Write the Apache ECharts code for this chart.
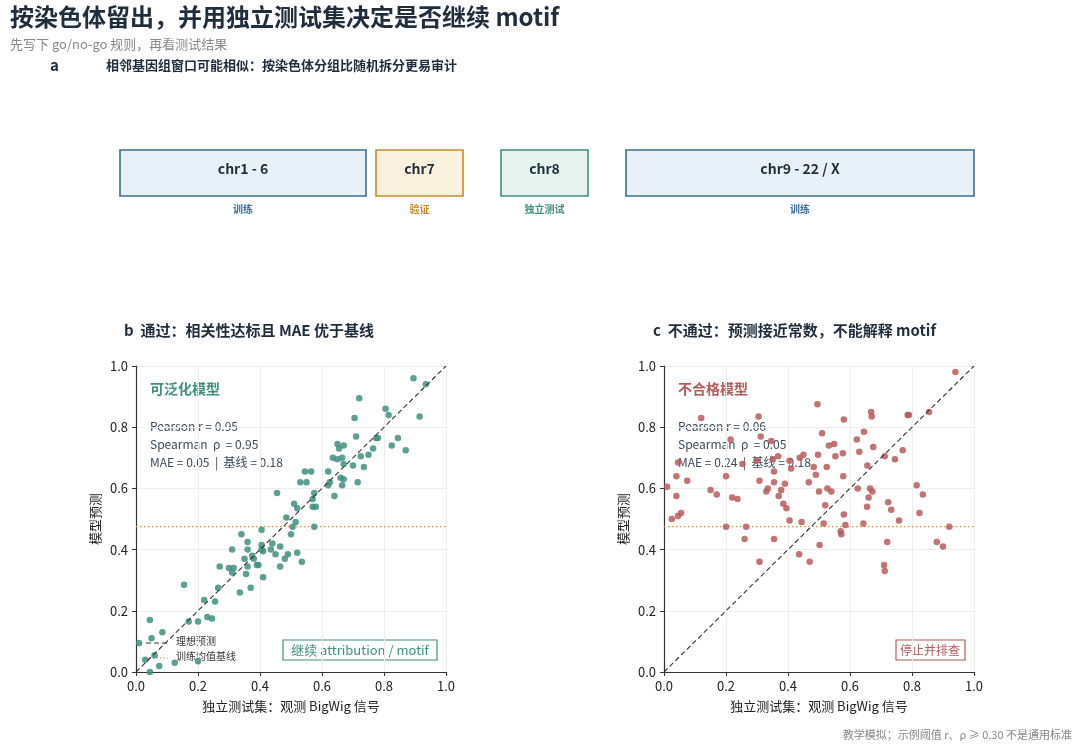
<!DOCTYPE html>
<html><head><meta charset="utf-8">
<script src="https://cdn.jsdelivr.net/npm/echarts@6/dist/echarts.min.js"></script>
<style>html,body{margin:0;padding:0;background:#fff}#main{width:1080px;height:751px}</style>
</head><body><div id="main"></div>
<script>
// chromosome split boxes (label, role, colour key)
const splitLabels = ['chr1 - 6', 'chr7', 'chr8', 'chr9 - 22 / X'];
const splitRoles = ['训练', '验证', '独立测试', '训练'];
const splitKinds = ['train', 'val', 'test', 'train'];

// panel b: generalising model [observed, predicted]
const goodPoints = [
  [0.01,0.095],[0.03,0.04],[0.045,0.0],[0.045,0.17],[0.05,0.11],[0.06,0.055],[0.075,0.02],[0.085,0.13],
  [0.125,0.03],[0.155,0.285],[0.17,0.165],[0.2,0.165],[0.2,0.035],[0.22,0.235],[0.23,0.18],[0.245,0.175],
  [0.255,0.23],[0.265,0.275],[0.27,0.345],[0.3,0.34],[0.31,0.4],[0.31,0.325],[0.315,0.34],[0.335,0.26],
  [0.34,0.45],[0.35,0.37],[0.355,0.32],[0.36,0.425],[0.36,0.4],[0.36,0.345],[0.37,0.275],[0.375,0.38],
  [0.38,0.37],[0.39,0.35],[0.395,0.35],[0.405,0.465],[0.405,0.415],[0.405,0.4],[0.41,0.31],[0.41,0.395],
  [0.435,0.4],[0.44,0.42],[0.45,0.385],[0.455,0.585],[0.465,0.345],[0.465,0.41],[0.48,0.37],[0.485,0.505],
  [0.49,0.385],[0.5,0.45],[0.505,0.475],[0.51,0.55],[0.515,0.49],[0.52,0.535],[0.52,0.39],[0.53,0.62],
  [0.535,0.36],[0.545,0.655],[0.55,0.62],[0.565,0.655],[0.57,0.54],[0.57,0.565],[0.575,0.475],[0.575,0.585],
  [0.58,0.54],[0.62,0.61],[0.62,0.655],[0.625,0.62],[0.635,0.7],[0.64,0.575],[0.65,0.745],[0.65,0.695],
  [0.655,0.73],[0.66,0.635],[0.665,0.61],[0.665,0.7],[0.67,0.68],[0.67,0.63],[0.67,0.74],[0.7,0.675],
  [0.705,0.83],[0.71,0.77],[0.715,0.62],[0.72,0.895],[0.725,0.705],[0.735,0.67],[0.75,0.71],[0.765,0.73],
  [0.775,0.765],[0.78,0.765],[0.805,0.86],[0.815,0.84],[0.825,0.74],[0.845,0.765],[0.87,0.725],[0.895,0.96],
  [0.915,0.835],[0.935,0.94]
];

// panel c: failing model [observed, predicted]
const badPoints = [
  [0.01,0.605],[0.025,0.5],[0.04,0.64],[0.04,0.575],[0.045,0.51],[0.055,0.52],[0.045,0.685],[0.075,0.625],
  [0.12,0.83],[0.15,0.595],[0.17,0.58],[0.2,0.64],[0.2,0.475],[0.215,0.76],[0.22,0.57],[0.237,0.565],
  [0.253,0.68],[0.26,0.435],[0.265,0.475],[0.298,0.69],[0.305,0.835],[0.308,0.625],[0.308,0.36],[0.312,0.77],
  [0.33,0.59],[0.335,0.6],[0.346,0.755],[0.351,0.695],[0.355,0.655],[0.355,0.62],[0.355,0.435],[0.368,0.705],
  [0.37,0.575],[0.378,0.595],[0.385,0.55],[0.39,0.615],[0.395,0.535],[0.405,0.69],[0.405,0.495],[0.41,0.665],
  [0.436,0.385],[0.438,0.7],[0.444,0.49],[0.45,0.71],[0.467,0.62],[0.47,0.36],[0.483,0.67],[0.49,0.645],
  [0.495,0.875],[0.497,0.71],[0.5,0.59],[0.502,0.415],[0.51,0.78],[0.515,0.485],[0.52,0.545],[0.525,0.67],
  [0.527,0.6],[0.532,0.74],[0.54,0.59],[0.549,0.745],[0.553,0.705],[0.57,0.46],[0.572,0.45],[0.577,0.715],
  [0.578,0.64],[0.58,0.825],[0.58,0.515],[0.585,0.48],[0.622,0.76],[0.625,0.6],[0.63,0.72],[0.643,0.485],
  [0.645,0.785],[0.655,0.54],[0.656,0.675],[0.66,0.57],[0.665,0.6],[0.668,0.85],[0.67,0.835],[0.672,0.59],
  [0.675,0.735],[0.712,0.705],[0.71,0.35],[0.712,0.33],[0.723,0.555],[0.72,0.425],[0.733,0.53],[0.745,0.695],
  [0.758,0.495],[0.77,0.725],[0.786,0.84],[0.79,0.84],[0.815,0.61],[0.824,0.52],[0.835,0.58],[0.855,0.85],
  [0.88,0.425],[0.9,0.41],[0.92,0.475],[0.94,0.98]
];

const baseline = 0.475;
const goodStats = ['Pearson r = 0.95', 'Spearman  ρ  = 0.95', 'MAE = 0.05  |  基线 = 0.18'];
const badStats = ['Pearson r = 0.06', 'Spearman  ρ  = 0.05', 'MAE = 0.24  |  基线 = 0.18'];

const FONT = '"Noto Sans CJK SC", "Noto Sans", sans-serif';
const TEAL = '#3f8f80', RED = '#b85a5a', ORANGE = '#d4923a', INK = '#1f2d3d';
const kindStyle = {
  train: { stroke: '#3b6f98', fill: '#e9f1f8', text: '#3b6f98' },
  val:   { stroke: '#c98a2a', fill: '#fbf1df', text: '#c98a2a' },
  test:  { stroke: '#3f8f80', fill: '#e7f3ef', text: '#3f8f80' }
};
// box geometry (layout only)
const boxX = [120, 376, 501, 626], boxW = [246, 114, 114, 348];
boxW[1] = 87; boxW[2] = 87;

var chart = echarts.init(document.getElementById('main'), null, { renderer: 'canvas' });

const graphic = [
  { type: 'text', left: 10, top: 5, style: { text: '按染色体留出，并用独立测试集决定是否继续 motif', font: 'bold 24px ' + FONT, fill: INK } },
  { type: 'text', left: 10, top: 38, style: { text: '先写下 go/no-go 规则，再看测试结果', font: '13px ' + FONT, fill: '#888' } },
  { type: 'text', left: 50, top: 58, style: { text: 'a', font: 'bold 15px ' + FONT, fill: INK } },
  { type: 'text', left: 106, top: 59, style: { text: '相邻基因组窗口可能相似：按染色体分组比随机拆分更易审计', font: 'bold 13px ' + FONT, fill: INK } },
  { type: 'text', left: 124, top: 323, style: { text: 'b  通过：相关性达标且 MAE 优于基线', font: 'bold 15px ' + FONT, fill: INK } },
  { type: 'text', left: 653, top: 323, style: { text: 'c  不通过：预测接近常数，不能解释 motif', font: 'bold 15px ' + FONT, fill: INK } },
  { type: 'text', left: 150, top: 382, style: { text: '可泛化模型', font: 'bold 14px ' + FONT, fill: TEAL } },
  { type: 'text', left: 678, top: 382, style: { text: '不合格模型', font: 'bold 14px ' + FONT, fill: RED } },
  { type: 'text', right: 8, top: 729, style: { text: '教学模拟；示例阈值 r、ρ ≥ 0.30 不是通用标准', font: '11px ' + FONT, fill: '#888' } },
  // decision tags
  { type: 'rect', shape: { x: 283, y: 640, width: 154, height: 20 }, style: { fill: '#fff', stroke: TEAL, lineWidth: 1.2 } },
  { type: 'text', x: 360, y: 650, style: { text: '继续 attribution / motif', font: '13px ' + FONT, fill: TEAL, align: 'center', verticalAlign: 'middle' } },
  { type: 'rect', shape: { x: 896, y: 640, width: 69, height: 20 }, style: { fill: '#fff', stroke: RED, lineWidth: 1.2 } },
  { type: 'text', x: 930, y: 650, style: { text: '停止并排查', font: '12px ' + FONT, fill: RED, align: 'center', verticalAlign: 'middle' } },
  // legend
  { type: 'line', shape: { x1: 146, y1: 643, x2: 168, y2: 643 }, style: { stroke: '#333', lineDash: [5, 3], lineWidth: 1 } },
  { type: 'text', left: 176, top: 636, style: { text: '理想预测', font: '10px ' + FONT, fill: '#333' } },
  { type: 'line', shape: { x1: 146, y1: 658, x2: 168, y2: 658 }, style: { stroke: ORANGE, lineDash: [1.5, 2], lineWidth: 1.2 } },
  { type: 'text', left: 176, top: 651, style: { text: '训练均值基线', font: '10px ' + FONT, fill: '#333' } }
];
goodStats.forEach((s, i) => graphic.push({ type: 'text', left: 150, top: 420 + i * 18, style: { text: s, font: '12px ' + FONT, fill: '#3a4a5a' } }));
badStats.forEach((s, i) => graphic.push({ type: 'text', left: 678, top: 420 + i * 18, style: { text: s, font: '12px ' + FONT, fill: '#3a4a5a' } }));
splitLabels.forEach((lab, i) => {
  const st = kindStyle[splitKinds[i]];
  graphic.push({ type: 'rect', shape: { x: boxX[i], y: 150, width: boxW[i], height: 46 }, style: { fill: st.fill, stroke: st.stroke, lineWidth: 1.6 } });
  graphic.push({ type: 'text', x: boxX[i] + boxW[i] / 2, y: 169, style: { text: lab, font: '600 14px ' + FONT, fill: INK, align: 'center', verticalAlign: 'middle' } });
  graphic.push({ type: 'text', x: boxX[i] + boxW[i] / 2, y: 209, style: { text: splitRoles[i], font: 'bold 10px ' + FONT, fill: st.text, align: 'center', verticalAlign: 'middle' } });
});

function axis(idx, isX) {
  return {
    gridIndex: idx, type: 'value', min: 0, max: 1, interval: 0.2,
    name: isX ? '独立测试集：观测 BigWig 信号' : '模型预测',
    nameLocation: 'middle', nameGap: isX ? 28 : 34,
    nameTextStyle: { fontFamily: FONT, fontSize: 13, color: '#222' },
    axisLine: { show: true, lineStyle: { color: '#333', width: 1.2 } },
    axisTick: { show: true, length: 4, lineStyle: { color: '#333' } },
    axisLabel: { fontFamily: FONT, fontSize: 13, color: '#222', formatter: v => v.toFixed(1) },
    splitLine: { show: true, lineStyle: { color: '#eee' } }
  };
}

function panelSeries(idx, pts, color) {
  return [
    { type: 'line', xAxisIndex: idx, yAxisIndex: idx, data: [[0, 0], [1, 1]], symbol: 'none', silent: true,
      lineStyle: { color: '#333', type: [5, 3], width: 1.1 }, z: 3 },
    { type: 'line', xAxisIndex: idx, yAxisIndex: idx, data: [[0, baseline], [1, baseline]], symbol: 'none', silent: true,
      lineStyle: { color: ORANGE, type: [1.5, 2.5], width: 1.3 }, z: 1 },
    { type: 'scatter', xAxisIndex: idx, yAxisIndex: idx, data: pts, symbolSize: 6.5,
      itemStyle: { color: color, opacity: 0.85 }, z: 2 }
  ];
}

chart.setOption({
  animation: false,
  grid: [
    { left: 136, top: 366, width: 310, height: 306 },
    { left: 664, top: 366, width: 310, height: 306 }
  ],
  xAxis: [axis(0, true), axis(1, true)],
  yAxis: [axis(0, false), axis(1, false)],
  series: [...panelSeries(0, goodPoints, TEAL), ...panelSeries(1, badPoints, RED)],
  graphic: graphic
});
</script>
</body></html>
